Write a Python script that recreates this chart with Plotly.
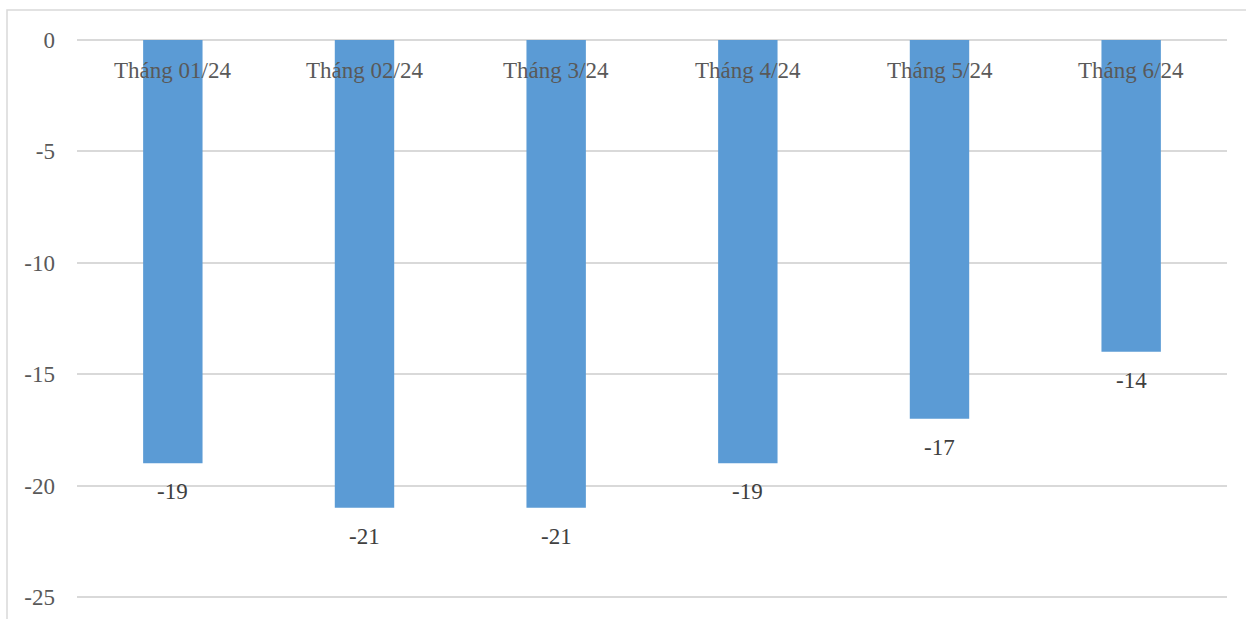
import plotly.graph_objects as go

# Monthly values
months = ["Tháng 01/24", "Tháng 02/24", "Tháng 3/24", "Tháng 4/24", "Tháng 5/24", "Tháng 6/24"]
values = [-19, -21, -21, -19, -17, -14]
y_ticks = [0, -5, -10, -15, -20, -25]

W, H = 1246, 619
ML, MR, MT, MB = 77, 19, 40, 21
PW, PH = W - ML - MR, H - MT - MB

FONT = "Liberation Serif, Times New Roman, serif"
BAR = "#5B9BD5"
GRID = "#D9D9D9"

fig = go.Figure()
fig.add_trace(go.Bar(
    x=months, y=values,
    marker=dict(color=BAR, line=dict(width=0)),
    width=0.31,
    hoverinfo="skip",
))

annotations = []
# Category labels sit just under the zero line
for m in months:
    annotations.append(dict(
        x=m, y=0, xref="x", yref="y", text=m, showarrow=False,
        yanchor="top", yshift=-16,
        font=dict(family=FONT, size=23, color="#595959"),
    ))
# Value labels below each bar end
for m, v in zip(months, values):
    annotations.append(dict(
        x=m, y=v, xref="x", yref="y", text=str(v), showarrow=False,
        yanchor="top", yshift=-14,
        font=dict(family=FONT, size=23, color="#404040"),
    ))

# Outer chart frame (pixel positions converted to paper space)
def px_x(p):
    return (p - ML) / PW

def px_y(p):
    return (H - MB - p) / PH

fig.add_shape(
    type="rect", xref="paper", yref="paper",
    x0=px_x(7), x1=px_x(1252), y0=px_y(640), y1=px_y(10),
    line=dict(color=GRID, width=1.5), fillcolor="rgba(0,0,0,0)", layer="below",
)

fig.update_layout(
    width=W, height=H,
    margin=dict(l=ML, r=MR, t=MT, b=MB, pad=0, autoexpand=False),
    paper_bgcolor="white", plot_bgcolor="white",
    showlegend=False,
    annotations=annotations,
    xaxis=dict(showticklabels=False, showgrid=False, zeroline=False,
               showline=False, ticks="", automargin=False),
    yaxis=dict(range=[-25.05, 0], tickvals=y_ticks, ticktext=[str(t) for t in y_ticks],
               showgrid=True, gridcolor=GRID, gridwidth=1.5,
               zeroline=True, zerolinecolor=GRID, zerolinewidth=1.5,
               showline=False, ticks="", ticklabelstandoff=21, automargin=False,
               tickfont=dict(family=FONT, size=23, color="#595959")),
)

fig.write_html("out.html")
